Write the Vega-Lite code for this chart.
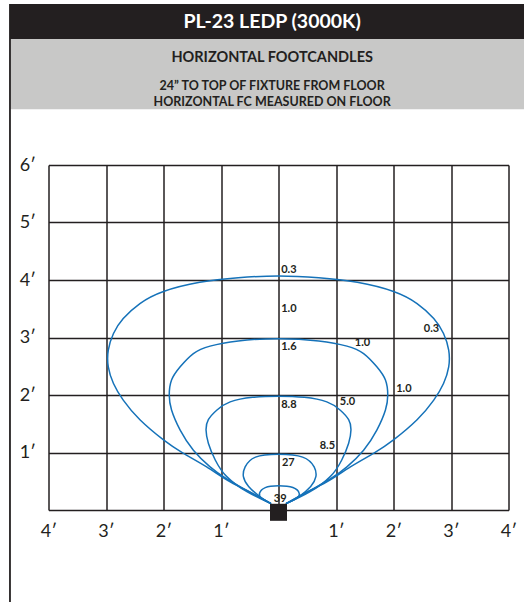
{
  "$schema": "https://vega.github.io/schema/vega-lite/v6.json",
  "width": 460,
  "height": 345,
  "autosize": "none",
  "padding": {"left": 48.5, "top": 165, "right": 15.5, "bottom": 92},
  "background": "white",
  "config": {"view": {"stroke": null}, "font": "Lato"},
  "datasets": {
    "contours": [
      {"c": 1, "i": 0, "x": -0.13, "y": 0.11}, {"c": 1, "i": 1, "x": -0.45, "y": 0.29}, {"c": 1, "i": 2, "x": -0.84, "y": 0.49},
      {"c": 1, "i": 3, "x": -1.25, "y": 0.75}, {"c": 1, "i": 4, "x": -1.66, "y": 0.99}, {"c": 1, "i": 5, "x": -2.0, "y": 1.22},
      {"c": 1, "i": 6, "x": -2.41, "y": 1.57}, {"c": 1, "i": 7, "x": -2.7, "y": 1.91}, {"c": 1, "i": 8, "x": -2.87, "y": 2.2},
      {"c": 1, "i": 9, "x": -2.96, "y": 2.49}, {"c": 1, "i": 10, "x": -2.96, "y": 2.78}, {"c": 1, "i": 11, "x": -2.87, "y": 3.07},
      {"c": 1, "i": 12, "x": -2.7, "y": 3.33}, {"c": 1, "i": 13, "x": -2.41, "y": 3.59}, {"c": 1, "i": 14, "x": -2.0, "y": 3.8},
      {"c": 1, "i": 15, "x": -1.37, "y": 3.96}, {"c": 1, "i": 16, "x": -0.7, "y": 4.04}, {"c": 1, "i": 17, "x": 0, "y": 4.07},
      {"c": 1, "i": 18, "x": 0.7, "y": 4.04}, {"c": 1, "i": 19, "x": 1.37, "y": 3.96}, {"c": 1, "i": 20, "x": 2.0, "y": 3.8},
      {"c": 1, "i": 21, "x": 2.41, "y": 3.59}, {"c": 1, "i": 22, "x": 2.7, "y": 3.33}, {"c": 1, "i": 23, "x": 2.87, "y": 3.07},
      {"c": 1, "i": 24, "x": 2.96, "y": 2.78}, {"c": 1, "i": 25, "x": 2.96, "y": 2.49}, {"c": 1, "i": 26, "x": 2.87, "y": 2.2},
      {"c": 1, "i": 27, "x": 2.7, "y": 1.91}, {"c": 1, "i": 28, "x": 2.41, "y": 1.57}, {"c": 1, "i": 29, "x": 2.0, "y": 1.22},
      {"c": 1, "i": 30, "x": 1.66, "y": 0.99}, {"c": 1, "i": 31, "x": 1.25, "y": 0.75}, {"c": 1, "i": 32, "x": 0.84, "y": 0.49},
      {"c": 1, "i": 33, "x": 0.45, "y": 0.29}, {"c": 1, "i": 34, "x": 0.13, "y": 0.11},

      {"c": 2, "i": 0, "x": -0.13, "y": 0.11}, {"c": 2, "i": 1, "x": -0.5, "y": 0.31}, {"c": 2, "i": 2, "x": -0.9, "y": 0.54},
      {"c": 2, "i": 3, "x": -1.19, "y": 0.75}, {"c": 2, "i": 4, "x": -1.48, "y": 1.04}, {"c": 2, "i": 5, "x": -1.71, "y": 1.39},
      {"c": 2, "i": 6, "x": -1.86, "y": 1.74}, {"c": 2, "i": 7, "x": -1.9, "y": 2.0}, {"c": 2, "i": 8, "x": -1.86, "y": 2.26},
      {"c": 2, "i": 9, "x": -1.71, "y": 2.49}, {"c": 2, "i": 10, "x": -1.48, "y": 2.72}, {"c": 2, "i": 11, "x": -1.19, "y": 2.85},
      {"c": 2, "i": 12, "x": -0.7, "y": 2.94}, {"c": 2, "i": 13, "x": 0, "y": 2.98}, {"c": 2, "i": 14, "x": 0.7, "y": 2.94},
      {"c": 2, "i": 15, "x": 1.19, "y": 2.85}, {"c": 2, "i": 16, "x": 1.48, "y": 2.72}, {"c": 2, "i": 17, "x": 1.71, "y": 2.49},
      {"c": 2, "i": 18, "x": 1.86, "y": 2.26}, {"c": 2, "i": 19, "x": 1.9, "y": 2.0}, {"c": 2, "i": 20, "x": 1.86, "y": 1.74},
      {"c": 2, "i": 21, "x": 1.71, "y": 1.39}, {"c": 2, "i": 22, "x": 1.48, "y": 1.04}, {"c": 2, "i": 23, "x": 1.19, "y": 0.75},
      {"c": 2, "i": 24, "x": 0.9, "y": 0.54}, {"c": 2, "i": 25, "x": 0.5, "y": 0.31}, {"c": 2, "i": 26, "x": 0.13, "y": 0.11},

      {"c": 3, "i": 0, "x": -0.13, "y": 0.11}, {"c": 3, "i": 1, "x": -0.55, "y": 0.32}, {"c": 3, "i": 2, "x": -0.9, "y": 0.58},
      {"c": 3, "i": 3, "x": -1.1, "y": 0.87}, {"c": 3, "i": 4, "x": -1.22, "y": 1.16}, {"c": 3, "i": 5, "x": -1.26, "y": 1.39},
      {"c": 3, "i": 6, "x": -1.22, "y": 1.57}, {"c": 3, "i": 7, "x": -1.07, "y": 1.74}, {"c": 3, "i": 8, "x": -0.84, "y": 1.88},
      {"c": 3, "i": 9, "x": -0.45, "y": 1.96}, {"c": 3, "i": 10, "x": 0, "y": 1.98}, {"c": 3, "i": 11, "x": 0.45, "y": 1.96},
      {"c": 3, "i": 12, "x": 0.84, "y": 1.88}, {"c": 3, "i": 13, "x": 1.07, "y": 1.74}, {"c": 3, "i": 14, "x": 1.22, "y": 1.57},
      {"c": 3, "i": 15, "x": 1.26, "y": 1.39}, {"c": 3, "i": 16, "x": 1.22, "y": 1.16}, {"c": 3, "i": 17, "x": 1.1, "y": 0.87},
      {"c": 3, "i": 18, "x": 0.9, "y": 0.58}, {"c": 3, "i": 19, "x": 0.55, "y": 0.32}, {"c": 3, "i": 20, "x": 0.13, "y": 0.11},

      {"c": 4, "i": 0, "x": -0.13, "y": 0.11}, {"c": 4, "i": 1, "x": -0.32, "y": 0.23}, {"c": 4, "i": 2, "x": -0.52, "y": 0.41},
      {"c": 4, "i": 3, "x": -0.61, "y": 0.58}, {"c": 4, "i": 4, "x": -0.58, "y": 0.75}, {"c": 4, "i": 5, "x": -0.4, "y": 0.92},
      {"c": 4, "i": 6, "x": 0, "y": 0.97}, {"c": 4, "i": 7, "x": 0.42, "y": 0.92}, {"c": 4, "i": 8, "x": 0.62, "y": 0.75},
      {"c": 4, "i": 9, "x": 0.65, "y": 0.58}, {"c": 4, "i": 10, "x": 0.56, "y": 0.41}, {"c": 4, "i": 11, "x": 0.35, "y": 0.23},
      {"c": 4, "i": 12, "x": 0.13, "y": 0.11},

      {"c": 5, "i": 0, "x": -0.13, "y": 0.11}, {"c": 5, "i": 1, "x": -0.29, "y": 0.2}, {"c": 5, "i": 2, "x": -0.33, "y": 0.29},
      {"c": 5, "i": 3, "x": -0.23, "y": 0.39}, {"c": 5, "i": 4, "x": 0, "y": 0.42}, {"c": 5, "i": 5, "x": 0.25, "y": 0.39},
      {"c": 5, "i": 6, "x": 0.36, "y": 0.29}, {"c": 5, "i": 7, "x": 0.31, "y": 0.2}, {"c": 5, "i": 8, "x": 0.13, "y": 0.11}
    ],
    "labels": [
      {"t": "0.3", "x": 0.18, "y": 4.18},
      {"t": "1.0", "x": 0.18, "y": 3.49},
      {"t": "1.6", "x": 0.18, "y": 2.83},
      {"t": "1.0", "x": 1.46, "y": 2.9},
      {"t": "0.3", "x": 2.66, "y": 3.14},
      {"t": "1.0", "x": 2.18, "y": 2.1},
      {"t": "8.8", "x": 0.18, "y": 1.82},
      {"t": "5.0", "x": 1.2, "y": 1.87},
      {"t": "8.5", "x": 0.85, "y": 1.12},
      {"t": "27", "x": 0.17, "y": 0.82},
      {"t": "39", "x": 0.03, "y": 0.19}
    ],
    "fixture": [{"x": 0, "y": -0.04}],
    "one": [{}]
  },
  "layer": [
    {
      "data": {"name": "one"},
      "mark": {"type": "rect", "color": "#231f20"},
      "encoding": {
        "x": {"datum": -4.67, "type": "quantitative", "scale": {"domain": [-4, 4], "nice": false, "zero": false}, "title": null},
        "x2": {"datum": 4.3},
        "y": {"datum": 8.8, "type": "quantitative", "scale": {"domain": [0, 6], "nice": false, "zero": false}, "title": null},
        "y2": {"datum": 8.19}
      }
    },
    {
      "data": {"name": "one"},
      "mark": {"type": "rect", "color": "#c8c8c7"},
      "encoding": {
        "x": {"datum": -4.67, "type": "quantitative", "title": null},
        "x2": {"datum": 4.3},
        "y": {"datum": 8.19, "type": "quantitative", "title": null},
        "y2": {"datum": 6.97}
      }
    },
    {
      "data": {"name": "one"},
      "mark": {"type": "rule", "color": "#231f20", "strokeWidth": 1.8},
      "encoding": {
        "x": {"datum": -4.67, "type": "quantitative", "title": null},
        "y": {"datum": 8.8, "type": "quantitative", "title": null},
        "y2": {"datum": -1.7}
      }
    },
    {
      "data": {"name": "one"},
      "mark": {"type": "text", "text": "PL-23 LEDP (3000K)", "color": "white", "font": "Lato", "fontWeight": "bold", "fontSize": 19.5, "align": "center", "baseline": "alphabetic"},
      "encoding": {
        "x": {"datum": -0.11, "type": "quantitative", "title": null},
        "y": {"datum": 8.377, "type": "quantitative", "title": null}
      }
    },
    {
      "data": {"name": "one"},
      "mark": {"type": "text", "text": "HORIZONTAL FOOTCANDLES", "color": "#231f20", "font": "Lato", "fontWeight": "bold", "fontSize": 14.5, "align": "center", "baseline": "alphabetic"},
      "encoding": {
        "x": {"datum": -0.11, "type": "quantitative", "title": null},
        "y": {"datum": 7.797, "type": "quantitative", "title": null}
      }
    },
    {
      "data": {"name": "one"},
      "mark": {"type": "text", "text": "24\u201d TO TOP OF FIXTURE FROM FLOOR", "color": "#231f20", "font": "Lato", "fontWeight": "bold", "fontSize": 12.5, "align": "center", "baseline": "alphabetic"},
      "encoding": {
        "x": {"datum": -0.11, "type": "quantitative", "title": null},
        "y": {"datum": 7.301, "type": "quantitative", "title": null}
      }
    },
    {
      "data": {"name": "one"},
      "mark": {"type": "text", "text": "HORIZONTAL FC MEASURED ON FLOOR", "color": "#231f20", "font": "Lato", "fontWeight": "bold", "fontSize": 12.5, "align": "center", "baseline": "alphabetic"},
      "encoding": {
        "x": {"datum": -0.11, "type": "quantitative", "title": null},
        "y": {"datum": 7.03, "type": "quantitative", "title": null}
      }
    },
    {
      "data": {"name": "contours"},
      "mark": {"type": "line", "interpolate": "natural", "color": "#1572b9", "strokeWidth": 1.5},
      "encoding": {
        "x": {"field": "x", "type": "quantitative", "title": null,
          "axis": {"values": [-4, -3, -2, -1, 0, 1, 2, 3, 4], "grid": true, "gridColor": "#231f20", "gridOpacity": 1, "gridWidth": 1.5,
            "domain": false, "ticks": false, "labelFlush": false, "labelOverlap": false, "labelBound": false,
            "labelExpr": "datum.value == 0 ? '' : abs(datum.value) + '\u2032'", "labelFont": "Lato", "labelFontSize": 18, "labelColor": "#231f20", "labelPadding": 12}},
        "y": {"field": "y", "type": "quantitative", "title": null,
          "axis": {"values": [0, 1, 2, 3, 4, 5, 6], "grid": true, "gridColor": "#231f20", "gridOpacity": 1, "gridWidth": 1.5,
            "domain": false, "ticks": false, "labelFlush": false, "labelOverlap": false, "labelBound": false,
            "labelExpr": "datum.value == 0 ? '' : datum.value + '\u2032'", "labelFont": "Lato", "labelFontSize": 18, "labelColor": "#231f20", "labelPadding": 13}},
        "detail": {"field": "c", "type": "nominal"},
        "order": {"field": "i", "type": "quantitative"}
      }
    },
    {
      "data": {"name": "labels"},
      "mark": {"type": "text", "font": "Lato", "fontWeight": "bold", "fontSize": 11, "color": "#231f20", "align": "center", "baseline": "middle"},
      "encoding": {
        "x": {"field": "x", "type": "quantitative", "title": null},
        "y": {"field": "y", "type": "quantitative", "title": null},
        "text": {"field": "t", "type": "nominal"}
      }
    },
    {
      "data": {"name": "fixture"},
      "mark": {"type": "point", "shape": "square", "filled": true, "size": 290, "color": "#231f20", "opacity": 1},
      "encoding": {
        "x": {"field": "x", "type": "quantitative", "title": null},
        "y": {"field": "y", "type": "quantitative", "title": null}
      }
    }
  ]
}
